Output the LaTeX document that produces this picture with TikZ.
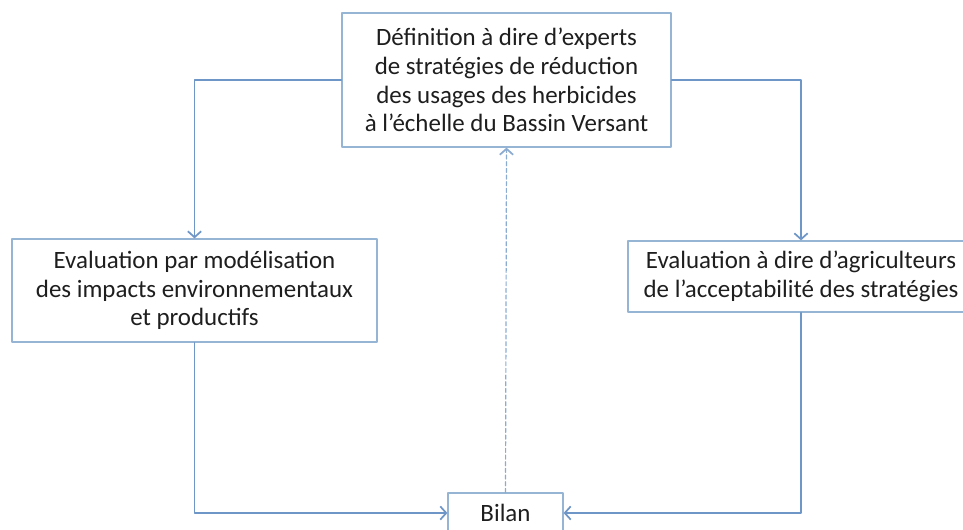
\documentclass[tikz,border=0pt]{standalone}
\usepackage{fontspec}
\setmainfont{Carlito}
\usetikzlibrary{arrows.meta}
\definecolor{bordbleu}{RGB}{150,180,212}
\definecolor{lienbleu}{RGB}{110,150,198}
\definecolor{texte}{RGB}{30,30,30}

\begin{document}
\begin{tikzpicture}[line cap=round,line join=round,>={Straight Barb[length=4.5pt,width=10pt,line width=1.3pt]},x=0.75pt,y=-0.75pt,
	boite/.style={draw=bordbleu,line width=0.9pt,fill=white,align=center,inner sep=0pt,text=texte,font=\fontsize{18.7}{21.6}\selectfont},
	lien/.style={draw=lienbleu,line width=0.9pt,->},
	pointille/.style={draw=lienbleu!80,line width=0.9pt,dash pattern=on 3pt off 2pt,->}]
		\useasboundingbox (0,0) rectangle (963,529);
		\clip (0,0) rectangle (963,529);
		\node[boite,minimum width=246.75pt,minimum height=100.5pt] (strat) at (506.5,80) {D\'efinition \`a dire d'experts\\de strat\'egies de r\'eduction\\des usages des herbicides\\\`a l'\'echelle du Bassin Versant};
		\node[boite,minimum width=273.75pt,minimum height=77.25pt] (model) at (194.5,290.5) {Evaluation par mod\'elisation\\des impacts environnementaux\\et productifs};
		\node[boite,minimum width=259.5pt,minimum height=53.25pt] (agri) at (801,276.5) {Evaluation \`a dire d'agriculteurs\\de l'acceptabilit\'e des strat\'egies};
		\node[boite,minimum width=86.25pt,minimum height=30pt,text depth=-4pt] (bilan) at (505.5,513) {Bilan};
		% liens
		\draw[lien] (strat.west) -| (model.north);
		\draw[lien] (strat.east) -| (agri.north);
		\draw[lien] (model.south) |- (bilan.west);
		\draw[lien] (agri.south) |- (bilan.east);
		\draw[pointille] (bilan.north) -- (strat.south);
	\end{tikzpicture}
\end{document}
